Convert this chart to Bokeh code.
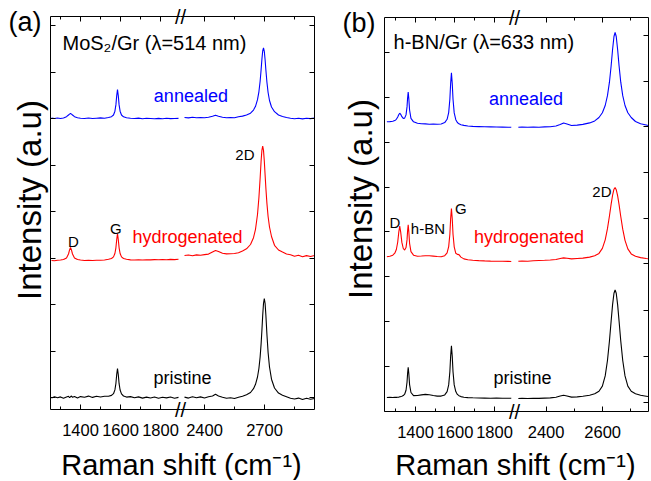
import math
from bokeh.plotting import figure
from bokeh.models import Range1d, LinearAxis, FixedTicker, Label, CustomJSTickFormatter
from bokeh.layouts import row
from bokeh.embed import file_html
from bokeh.resources import INLINE

FONT = "Liberation Sans"
BLUE = "#0000FF"
RED = "#FF0000"
BLACK = "#000000"

# ---------------- panel (a): MoS2/Gr, 514 nm ----------------
XA_L = [1255, 1270, 1285, 1300, 1315, 1330, 1340, 1345, 1350, 1355, 1360, 1370, 1385, 1400, 1420, 1440,
        1460, 1480, 1500, 1520, 1540, 1555, 1565, 1572, 1577, 1581, 1585, 1589, 1593, 1598, 1605, 1615,
        1630, 1650, 1670, 1690, 1710, 1730, 1750, 1770, 1790, 1810, 1830, 1850, 1870, 1890]
A_ANNEALED_L = [279.5, 279, 279.5, 279, 279.5, 280.8, 282.5, 283.4, 284, 283.4, 282.5, 280.8, 279.8, 279.3,
                279, 279.5, 279, 279.3, 279.6, 279.2, 280, 280.8, 282.5, 286.3, 292.6, 301.6, 308, 301.6,
                292.6, 286.3, 282.5, 280.7, 279.8, 279.3, 279, 279.4, 278.8, 279.2, 279, 278.7, 279.1,
                278.8, 279.2, 278.9, 279, 279.1]
A_HYDRO_L = [137, 136.8, 137.2, 137.5, 138, 139.6, 143.5, 147.4, 150, 147.4, 143.5, 139.6, 138, 137.5, 137,
             137.2, 137, 137.3, 137.2, 137.5, 138.2, 139, 140.6, 144, 149.7, 157.8, 164, 157.8, 149.7, 144,
             140.6, 139, 138.2, 137.6, 137.5, 137.8, 137.5, 137.8, 137.6, 137.9, 137.7, 138, 137.8, 138.1,
             137.9, 138.2]
A_PRIST_L = [-0.5, 0.8, -0.3, 0.6, -0.8, 0.5, 1.2, -0.2, 0.7, 1.5, 0.2, 1.0, -0.4, 0.9, 0.3, 1.4, 0.1, 1.2,
             0.5, 1.3, 1.2, 2.1, 3.8, 7.6, 14, 23, 29, 22.6, 13.8, 7.5, 3.6, 1.5, 0.4, 0.9, -0.3, 0.6, -0.6,
             0.4, -0.5, 0.5, -0.8, 0.2, -0.4, 0.5, -0.7, 0.1]

XA_R = [2300, 2320, 2340, 2360, 2380, 2400, 2420, 2440, 2455, 2470, 2490, 2510, 2530, 2550, 2570, 2590,
        2610, 2630, 2645, 2655, 2665, 2672, 2678, 2683, 2687, 2691, 2695, 2699, 2703, 2707, 2712, 2718,
        2725, 2735, 2750, 2770, 2790, 2810, 2830, 2850, 2870, 2890, 2910, 2930, 2950]
A_ANNEALED_R = [280, 279.6, 280.2, 279.8, 280, 279.7, 280.3, 281.2, 282.3, 281.3, 280.2, 279.8, 280, 279.7,
                280.8, 281.4, 282.5, 284.3, 287.4, 291.2, 297.8, 305.7, 316, 327.6, 338.1, 346.5, 349.5,
                346.2, 337.8, 327.3, 315.5, 305, 297, 290.5, 285.8, 282.5, 281, 280, 279.2, 278.8, 279.3,
                278.6, 279.2, 278.9, 279.5]
A_HYDRO_R = [142, 142.5, 141.8, 142.6, 142.2, 142.9, 143.4, 145.5, 147, 146, 144.3, 143.6, 143.8, 144,
             144.8, 146.6, 148.7, 153, 159.8, 168.2, 183, 199.8, 218.8, 236.5, 247.1, 251.5, 247.1, 236.5,
             222.6, 209, 194.4, 181, 170.5, 161, 152.2, 147.5, 145.4, 143.5, 142.8, 141.2, 142.3, 140.8,
             141.9, 141, 142]
A_PRIST_R = [0.4, -0.6, 0.8, -0.3, 0.6, -0.5, 0.7, 1.5, 3.2, 1.6, 0.2, -0.8, -0.2, -1, 0.2, 1.2, 2.7, 5,
             8.8, 13.2, 20.5, 29, 40.2, 53.6, 67, 82, 94, 99, 94, 82, 63.5, 45, 30.5, 18.3, 9.5, 4.4, 2.3,
             0.8, -0.8, -1.5, -0.6, -2, -0.8, -1.8, -1]

A_XMAJOR_L = [1400, 1600, 1800]
A_XMINOR_L = [1300, 1500, 1700]
A_XMAJOR_R = [2400, 2700]
A_XMINOR_R = [2550, 2850]
A_YTICKS = [0, 46.5, 93, 139.5, 186, 232.5, 279, 325.5, 372]

# ---------------- panel (b): h-BN/Gr, 633 nm ----------------
XB_L = [1255, 1270, 1285, 1295, 1303, 1310, 1315, 1320, 1325, 1331, 1338, 1345, 1352, 1357, 1360, 1363,
        1366, 1370, 1377, 1390, 1410, 1430, 1450, 1470, 1490, 1510, 1530, 1548, 1560, 1568, 1574, 1578,
        1582, 1586, 1590, 1596, 1604, 1612, 1620, 1630, 1645, 1665, 1690, 1720, 1750, 1780, 1810, 1840,
        1870, 1885]
B_ANNEALED_L = [289.8, 289.9, 290.2, 290.9, 292.2, 294.5, 296.7, 298.3, 297.2, 294.8, 293.1, 293.4, 296.6,
                304.6, 313.5, 319.5, 313.3, 301.5, 293.2, 289.7, 288.2, 287.8, 287.6, 287.3, 287.4, 287.3,
                287.5, 288.9, 292.2, 298.9, 312.3, 328.2, 338.7, 328.1, 312.2, 298.6, 291.8, 289, 287.7,
                286.8, 286.1, 285.5, 285.1, 284.9, 284.7, 284.6, 284.5, 284.4, 284.3, 284.2]
B_HYDRO_L = [154.7, 155.2, 156.3, 158.3, 162, 169.5, 178.8, 185.5, 179.4, 169.1, 163, 161.4, 163.9, 171.6,
             180.6, 186.6, 180.2, 168.2, 159.8, 156.3, 155.3, 155.5, 155.8, 155.7, 155.4, 155, 154.7, 155.8,
             158.7, 164.9, 177.3, 193, 203, 193, 177.3, 164.7, 158.2, 157.1, 156.9, 154.4, 152.6, 151.8,
             151.3, 150.9, 150.6, 150.4, 150.3, 150.2, 150.1, 150]
B_PRIST_L = [14, 14.1, 14, 14.2, 14.1, 14.2, 14.3, 14.7, 14.9, 15.3, 15.9, 17.3, 21.2, 29.3, 38.3, 44.3,
             38.3, 26.9, 19, 15.9, 16, 16.6, 17.1, 16.8, 16, 15.4, 15.4, 16.6, 19.9, 26.6, 39.8, 55.4, 65.8,
             55.4, 39.8, 26.6, 19.9, 17.1, 15.8, 14.9, 14.3, 13.9, 13.7, 13.5, 13.4, 13.3, 13.4, 13.2, 13.3,
             13.2]

XB_R = [2302, 2315, 2335, 2355, 2375, 2395, 2415, 2435, 2450, 2462, 2474, 2490, 2510, 2530, 2554, 2572,
        2587, 2599, 2609, 2617, 2624, 2630, 2635, 2640, 2644, 2648, 2653, 2658, 2664, 2671, 2679, 2689,
        2701, 2716, 2734, 2754, 2760]
B_ANNEALED_R = [284.3, 284.5, 284.2, 284.4, 284.3, 284.6, 284.8, 285.5, 287, 288.5, 287.5, 286, 286.4,
                287.1, 288.6, 290.6, 294, 298.8, 306, 315.8, 329.3, 345.7, 361.7, 375, 379, 375, 361.7,
                345.7, 329.3, 315.8, 306, 298.8, 294, 290, 287.8, 286.5, 286]
B_HYDRO_R = [150.2, 150.5, 150.3, 150.8, 151, 151.2, 151.5, 152, 153, 153.6, 153.2, 152.6, 153, 153.4,
             154.4, 155.7, 158.1, 163.1, 171.7, 182.8, 195.5, 207.3, 216.2, 222.3, 224, 221.8, 215.7,
             206.8, 195, 182.3, 171.2, 162.6, 157.6, 155.2, 153.9, 153, 152.8]
B_PRIST_R = [13, 13.2, 13, 13.3, 13.1, 13.4, 13.6, 14.3, 15.5, 16.3, 15.5, 14.4, 14.6, 15.2, 16.3, 17.7,
             20.2, 25.4, 35.6, 51, 70.5, 90.5, 106.6, 118.3, 121.5, 118.3, 106.6, 90.5, 70.5, 51, 35.6,
             25.4, 20.2, 17.7, 16.3, 15.3, 15]

B_XMAJOR_L = [1400, 1600, 1800]
B_XMINOR_L = [1300, 1500, 1700]
B_XMAJOR_R = [2400, 2600]
B_XMINOR_R = [2500, 2700]
B_YTICKS_LEFT = [0, 45, 90, 135, 180, 224, 269, 314, 359]
B_YTICKS_RIGHT = [9, 55, 101, 148, 193, 239, 285, 330, 376]

X_TITLE = "Raman shift (cm\u207b\u00b9)"
Y_TITLE = "Intensity (a.u)"


def add_axis(p, side, fixed, bounds, ticks, minor=(), range_name=None, labels=False):
    kw = {"x_range_name": range_name} if range_name else {}
    ax = LinearAxis(ticker=FixedTicker(ticks=list(ticks), minor_ticks=list(minor)),
                    fixed_location=fixed, bounds=bounds, **kw)
    ax.axis_line_color = BLACK
    ax.axis_line_width = 1
    ax.major_tick_line_color = BLACK
    ax.minor_tick_line_color = BLACK
    ax.major_tick_line_width = 1
    ax.minor_tick_line_width = 1
    ax.major_tick_in = 5
    ax.major_tick_out = 0
    ax.minor_tick_in = 3
    ax.minor_tick_out = 0
    if labels:
        ax.major_label_text_font = FONT
        ax.major_label_text_font_size = "16.5px"
        ax.major_label_text_color = BLACK
        ax.major_label_standoff = 14
    else:
        ax.formatter = CustomJSTickFormatter(code="return ''")
        ax.major_label_standoff = 0
        ax.major_label_text_font_size = "0px"
    p.add_layout(ax, side)


def make_panel(width, height, xr, xr_right, yr, box_x, box_y, seg_l, seg_r,
               xticks_l, xticks_r, yt_left, yt_right):
    p = figure(width=width, height=height, x_range=Range1d(*xr), y_range=Range1d(*yr),
               output_backend="svg", toolbar_location=None, title=None,
               x_axis_location=None, y_axis_location=None,
               min_border_left=0, min_border_right=0, min_border_top=0, min_border_bottom=0)
    p.extra_x_ranges = {"r": Range1d(*xr_right)}
    p.grid.visible = False
    p.outline_line_color = None
    p.background_fill_color = "white"
    p.border_fill_color = "white"

    # frame box: bottom/top axes per segment, left/right axes
    add_axis(p, "below", box_y[0], seg_l, xticks_l[0], xticks_l[1], None, True)
    add_axis(p, "below", box_y[0], seg_r, xticks_r[0], xticks_r[1], "r", True)
    add_axis(p, "above", box_y[1], seg_l, xticks_l[0], xticks_l[1], None, False)
    add_axis(p, "above", box_y[1], seg_r, xticks_r[0], xticks_r[1], "r", False)
    add_axis(p, "left", box_x[0], box_y, yt_left)
    add_axis(p, "right", box_x[1], box_y, yt_right)
    return p


def add_label(p, x, y, text, size, color=BLACK, align="center", baseline="alphabetic", angle=0.0):
    p.add_layout(Label(x=x, y=y, text=text, text_font=FONT, text_font_size=size, text_color=color,
                       text_align=align, text_baseline=baseline, angle=angle))


# ---------- panel a ----------
pa = make_panel(316, 480, (1000, 2580), (1380, 2960), (-83, 397), (1250, 2570), (-12, 381),
                (1250, 1900), (2280, 2950),
                (A_XMAJOR_L, A_XMINOR_L), (A_XMAJOR_R, A_XMINOR_R), A_YTICKS, A_YTICKS)
for yl, yr_, c in ((A_ANNEALED_L, A_ANNEALED_R, BLUE), (A_HYDRO_L, A_HYDRO_R, RED),
                   (A_PRIST_L, A_PRIST_R, BLACK)):
    pa.line(XA_L, yl, line_color=c, line_width=1.1)
    pa.line(XA_R, yr_, line_color=c, line_width=1.1, x_range_name="r")

add_label(pa, 1040, 376, "(a)", "27px", align="left", baseline="middle")
add_label(pa, 1310, 355, "MoS\u2082/Gr (\u03bb=514 nm)", "20px", align="left")
add_label(pa, 1952, 302, "annealed", "18px", BLUE)
add_label(pa, 1935, 161, "hydrogenated", "18px", RED)
add_label(pa, 1910, 20, "pristine", "18px")
add_label(pa, 2222, 243, "2D", "15px")
add_label(pa, 1577, 169, "G", "15px")
add_label(pa, 1365, 156, "D", "15px")
add_label(pa, 1900, 381, "//", "20px", baseline="middle")
add_label(pa, 1900, -12, "//", "20px", baseline="middle")
add_label(pa, 1905, -67, X_TITLE, "29px")
add_label(pa, 1145, 197.5, Y_TITLE, "33px", baseline="middle", angle=math.pi / 2)

# ---------- panel b ----------
pb = make_panel(334, 480, (898.6, 2590.1), (1588.7, 2769.1), (-69, 411), (1243, 2580), (0, 394),
                (1243, 1900), (2288, 2762),
                (B_XMAJOR_L, B_XMINOR_L), (B_XMAJOR_R, B_XMINOR_R), B_YTICKS_LEFT, B_YTICKS_RIGHT)
for yl, yr_, c in ((B_ANNEALED_L, B_ANNEALED_R, BLUE), (B_HYDRO_L, B_HYDRO_R, RED),
                   (B_PRIST_L, B_PRIST_R, BLACK)):
    pb.line(XB_L, yl, line_color=c, line_width=1.1)
    pb.line(XB_R, yr_, line_color=c, line_width=1.1, x_range_name="r")

add_label(pb, 1030, 389, "(b)", "27px", align="left", baseline="middle")
add_label(pb, 1289, 370, "h-BN/Gr (\u03bb=633 nm)", "20px", align="left")
add_label(pb, 1960, 313, "annealed", "18px", BLUE)
add_label(pb, 1975, 175, "hydrogenated", "18px", RED)
add_label(pb, 1942, 34, "pristine", "18px")
add_label(pb, 1296, 189, "D", "15px")
add_label(pb, 1463, 183, "h-BN", "15px")
add_label(pb, 1630, 203, "G", "15px")
add_label(pb, 2344, 220, "2D", "15px")
add_label(pb, 1901, 394, "//", "20px", baseline="middle")
add_label(pb, 1901, 0, "//", "20px", baseline="middle")
add_label(pb, 1906, -53, X_TITLE, "29px")
add_label(pb, 1121.5, 212.5, Y_TITLE, "33px", baseline="middle", angle=math.pi / 2)

layout = row(pa, pb)
open("out.html", "w").write(file_html(layout, INLINE))
